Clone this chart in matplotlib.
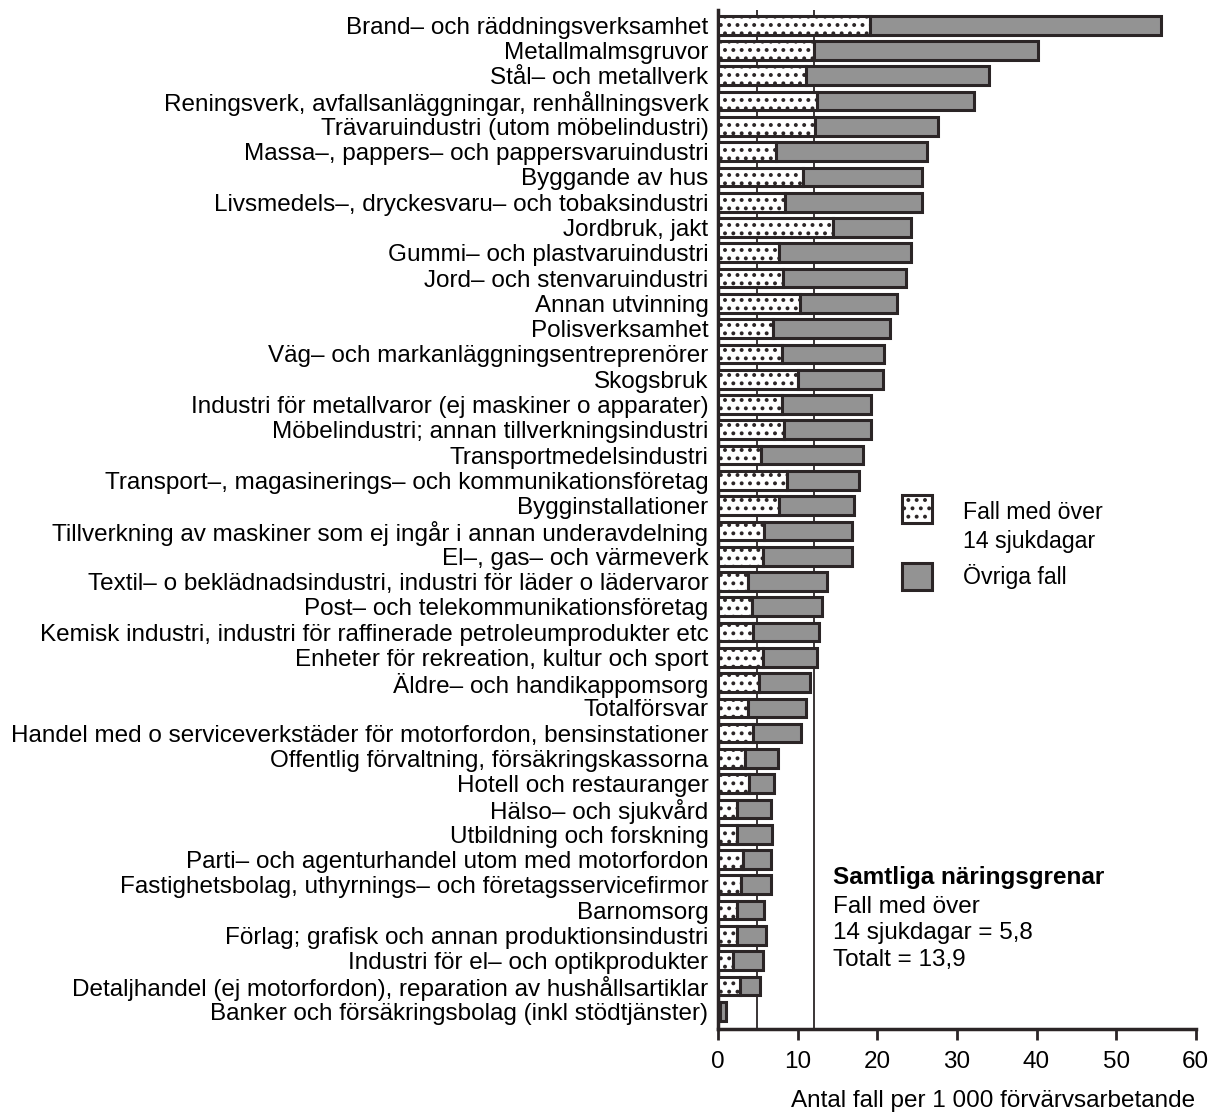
import matplotlib
matplotlib.use("Agg")
import matplotlib.pyplot as plt
import numpy as np
from matplotlib.patches import Rectangle

plt.rcParams['font.family'] = ['Liberation Sans', 'DejaVu Sans']
plt.rcParams['hatch.linewidth'] = 1.6

# branches, top to bottom
labels = [
    "Brand– och räddningsverksamhet",
    "Metallmalmsgruvor",
    "Stål– och metallverk",
    "Reningsverk, avfallsanläggningar, renhållningsverk",
    "Trävaruindustri (utom möbelindustri)",
    "Massa–, pappers– och pappersvaruindustri",
    "Byggande av hus",
    "Livsmedels–, dryckesvaru– och tobaksindustri",
    "Jordbruk, jakt",
    "Gummi– och plastvaruindustri",
    "Jord– och stenvaruindustri",
    "Annan utvinning",
    "Polisverksamhet",
    "Väg– och markanläggningsentreprenörer",
    "Skogsbruk",
    "Industri för metallvaror (ej maskiner o apparater)",
    "Möbelindustri; annan tillverkningsindustri",
    "Transportmedelsindustri",
    "Transport–, magasinerings– och kommunikationsföretag",
    "Bygginstallationer",
    "Tillverkning av maskiner som ej ingår i annan underavdelning",
    "El–, gas– och värmeverk",
    "Textil– o beklädnadsindustri, industri för läder o lädervaror",
    "Post– och telekommunikationsföretag",
    "Kemisk industri, industri för raffinerade petroleumprodukter etc",
    "Enheter för rekreation, kultur och sport",
    "Äldre– och handikappomsorg",
    "Totalförsvar",
    "Handel med o serviceverkstäder för motorfordon, bensinstationer",
    "Offentlig förvaltning, försäkringskassorna",
    "Hotell och restauranger",
    "Hälso– och sjukvård",
    "Utbildning och forskning",
    "Parti– och agenturhandel utom med motorfordon",
    "Fastighetsbolag, uthyrnings– och företagsservicefirmor",
    "Barnomsorg",
    "Förlag; grafisk och annan produktionsindustri",
    "Industri för el– och optikprodukter",
    "Detaljhandel (ej motorfordon), reparation av hushållsartiklar",
    "Banker och försäkringsbolag (inkl stödtjänster)",
]

# cases with more than 14 sick days (dotted part)
over14 = [19.1, 12.0, 11.1, 12.4, 12.2, 7.3, 10.7, 8.4, 14.4, 7.7,
          8.2, 10.3, 6.9, 8.0, 10.0, 8.0, 8.3, 5.4, 8.7, 7.7,
          5.7, 5.6, 3.8, 4.2, 4.4, 5.6, 5.1, 3.7, 4.4, 3.4,
          3.9, 2.4, 2.4, 3.1, 2.9, 2.4, 2.4, 1.9, 2.8, 0.2]
# all cases (end of bar)
total = [55.7, 40.2, 34.0, 32.2, 27.6, 26.2, 25.6, 25.6, 24.2, 24.2,
         23.6, 22.5, 21.6, 20.9, 20.7, 19.2, 19.2, 18.2, 17.7, 17.1,
         16.8, 16.8, 13.7, 13.1, 12.7, 12.4, 11.6, 11.1, 10.4, 7.5,
         7.0, 6.7, 6.8, 6.6, 6.6, 5.8, 6.0, 5.6, 5.2, 1.0]

ref_lines = [4.9, 12.0]   # drawn reference lines (5,8 and 13,9 in text)

over14 = np.array(over14)
total = np.array(total)
y = np.arange(len(labels))[::-1]

fig = plt.figure(figsize=(12.09, 11.16), dpi=100)
ax = fig.add_axes([0.594, 0.078, 0.395, 0.913])

edge = '#2b2526'
grey = '#939393'
fs = 17.5
ax.barh(y, over14, height=0.74, color='white', edgecolor=edge, linewidth=2.2,
        hatch='..', zorder=3)
ax.barh(y, total - over14, left=over14, height=0.74, color=grey,
        edgecolor=edge, linewidth=2.2, zorder=3)

for v in ref_lines:
    ax.axvline(v, color=edge, linewidth=1.3, zorder=2)

ax.set_xlim(0, 60)
ax.set_ylim(-0.7, 39.6)
ax.set_yticks(y)
ax.set_yticklabels(labels, fontsize=fs)
ax.tick_params(axis='y', length=0, pad=7)
ax.set_xticks(np.arange(0, 61, 10))
ax.tick_params(axis='x', direction='out', length=8, width=2, pad=8,
               labelsize=fs, color=edge)
for s in ['top', 'right']:
    ax.spines[s].set_visible(False)
for s in ['left', 'bottom']:
    ax.spines[s].set_linewidth(2.5)
    ax.spines[s].set_color(edge)
ax.set_xlabel("Antal fall per 1 000 förvärvsarbetande", fontsize=fs, labelpad=12,
              x=0.575)

# legend, drawn by hand so the box sits on the first text line
ax.add_patch(Rectangle((0.385, 0.497), 0.062, 0.027, transform=ax.transAxes,
                       facecolor='white', edgecolor=edge, hatch='..',
                       linewidth=2.2, clip_on=False))
ax.add_patch(Rectangle((0.385, 0.431), 0.062, 0.026, transform=ax.transAxes,
                       facecolor=grey, edgecolor=edge, linewidth=2.2,
                       clip_on=False))
ax.text(0.513, 0.507, "Fall med över", transform=ax.transAxes,
        fontsize=16.7, va='center')
ax.text(0.513, 0.478, "14 sjukdagar", transform=ax.transAxes,
        fontsize=16.7, va='center')
ax.text(0.513, 0.444, "Övriga fall", transform=ax.transAxes,
        fontsize=16.7, va='center')

tx = 0.241
ax.text(tx, 0.149, "Samtliga näringsgrenar", transform=ax.transAxes,
        fontsize=fs, fontweight='bold', va='center')
ax.text(tx, 0.120, "Fall med över", transform=ax.transAxes,
        fontsize=fs, va='center')
ax.text(tx, 0.094, "14 sjukdagar = 5,8", transform=ax.transAxes,
        fontsize=fs, va='center')
ax.text(tx, 0.068, "Totalt = 13,9", transform=ax.transAxes,
        fontsize=fs, va='center')

fig.savefig("out.png", dpi=100)
